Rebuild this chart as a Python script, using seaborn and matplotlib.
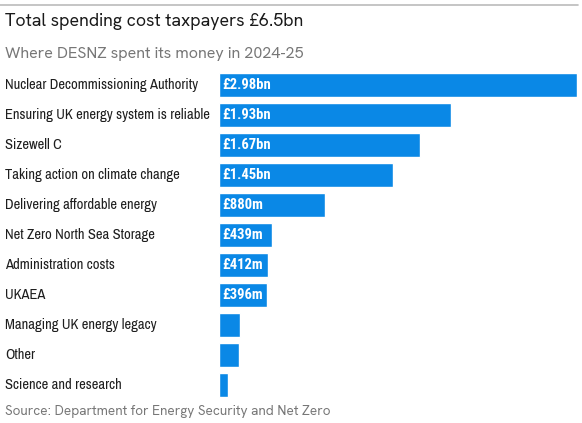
import matplotlib
matplotlib.use("Agg")
import matplotlib.pyplot as plt
import seaborn as sns
import pandas as pd

# Data (in £m)
categories = [
    "Nuclear Decommissioning Authority",
    "Ensuring UK energy system is reliable",
    "Sizewell C",
    "Taking action on climate change",
    "Delivering affordable energy",
    "Net Zero North Sea Storage",
    "Administration costs",
    "UKAEA",
    "Managing UK energy legacy",
    "Other",
    "Science and research",
]
spend_m = [2980, 1930, 1670, 1450, 880, 439, 412, 396, 175, 167, 75]
value_labels = ["£2.98bn", "£1.93bn", "£1.67bn", "£1.45bn", "£880m",
                "£439m", "£412m", "£396m", "", "", ""]

df = pd.DataFrame({"category": categories, "spend": spend_m, "label": value_labels})

narrow = ["Archivo Narrow", "Roboto Condensed", "DejaVu Sans"]
narrow_bold = ["Roboto Condensed", "Barlow Condensed", "DejaVu Sans"]
grotesk = ["Hanken Grotesk", "Inter", "DejaVu Sans"]

sns.set_style("white")
plt.rcParams["font.family"] = grotesk

W, H = 582, 423
fig = plt.figure(figsize=(W / 100, H / 100), dpi=100)
ax = fig.add_axes([219 / W, 1 - 400 / H, (577 - 219) / W, 330 / H])

bar_color = "#0a88e6"
sns.barplot(data=df, x="spend", y="category", orient="h", color=bar_color,
            saturation=1, width=0.8, ax=ax)

ax.set_xlim(0, max(spend_m))
ax.set_ylim(len(categories) - 0.5, -0.5)
ax.set_xlabel("")
ax.set_ylabel("")
ax.set_xticks([])
sns.despine(ax=ax, left=True, bottom=True)

# category names sit flush left at the figure edge
ax.tick_params(axis="y", length=0, pad=(219 - 5) * 0.72)
for lab in ax.get_yticklabels():
    lab.set_ha("left")
    lab.set_va("center")
    lab.set_fontfamily(narrow)
    lab.set_fontsize(10.5)
    lab.set_color("#1e1e1e")

for i, row in df.iterrows():
    if row["label"]:
        ax.annotate(row["label"], xy=(0, i), xytext=(2.5, 0), textcoords="offset points",
                    ha="left", va="center", color="white", fontsize=10.5,
                    fontweight="bold", fontfamily=narrow_bold)

fig.add_artist(plt.Line2D([0, 578 / W], [1 - 5 / H, 1 - 5 / H], color="#bbbbbb", lw=1.2))
fig.text(5 / W, 1 - 21 / H, "Total spending cost taxpayers £6.5bn", fontsize=12.8,
         color="#1a1a1a", va="center", ha="left")
fig.text(5 / W, 1 - 54 / H, "Where DESNZ spent its money in 2024-25", fontsize=11.6,
         color="#777777", va="center", ha="left")
fig.text(5 / W, 1 - 411 / H, "Source: Department for Energy Security and Net Zero",
         fontsize=9.8, color="#777777", va="center", ha="left")

fig.savefig("out.png", dpi=100)
